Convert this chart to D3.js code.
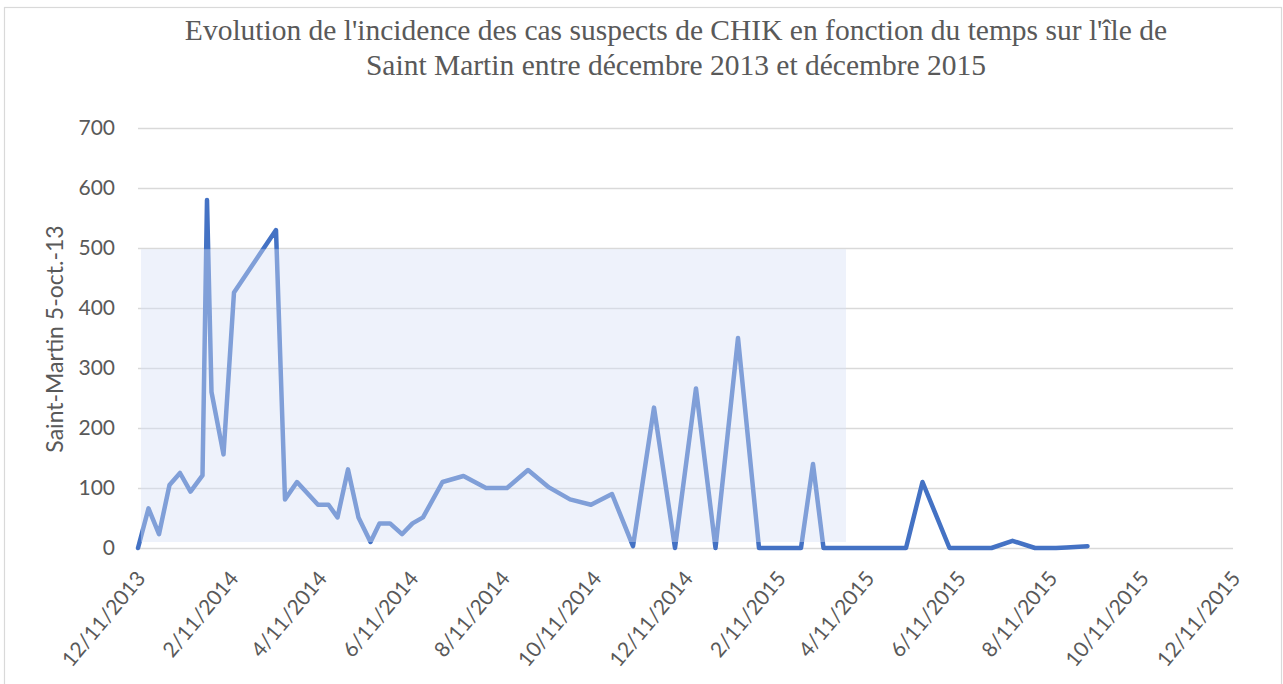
<!DOCTYPE html>
<html>
<head>
<meta charset="utf-8">
<script src="https://cdn.jsdelivr.net/npm/d3@7"></script>
<style>
  html, body { margin: 0; padding: 0; background: #ffffff; }
  svg { display: block; }
</style>
</head>
<body>
<svg id="chart" width="1283" height="684"></svg>
<script>
// Weekly / bi-weekly suspected CHIK cases, Saint-Martin
const dates = [
  "2013-12-11","2013-12-18","2013-12-25","2014-01-01","2014-01-08","2014-01-15",
  "2014-01-23","2014-01-26","2014-01-29","2014-02-06","2014-02-13","2014-03-13",
  "2014-03-19","2014-03-27","2014-04-10","2014-04-17","2014-04-23","2014-04-30",
  "2014-05-07","2014-05-15","2014-05-21","2014-05-28","2014-06-05","2014-06-12",
  "2014-06-19","2014-07-02","2014-07-16","2014-07-31","2014-08-14","2014-08-28",
  "2014-09-11","2014-09-25","2014-10-09","2014-10-23","2014-11-06","2014-11-20",
  "2014-12-04","2014-12-18","2014-12-31","2015-01-15","2015-01-29","2015-02-12",
  "2015-02-26","2015-03-06","2015-03-13","2015-03-26","2015-04-09","2015-04-23",
  "2015-05-07","2015-05-18","2015-06-05","2015-06-19","2015-07-03","2015-07-17",
  "2015-08-01","2015-08-15","2015-08-22","2015-09-05"
];
const cases = [
  0, 66, 23, 105, 125, 94,
  121, 580, 260, 156, 426, 530,
  81, 110, 72, 72, 51, 131,
  51, 10, 41, 41, 23, 41,
  51, 110, 120, 100, 100, 130,
  101, 81, 72, 90, 3, 234,
  0, 266, 0, 350, 0, 0,
  0, 140, 0, 0, 0, 0,
  0, 110, 0, 0, 0, 12,
  0, 0, 1, 3
];

const xTickLabels = [
  "12/11/2013","2/11/2014","4/11/2014","6/11/2014","8/11/2014","10/11/2014",
  "12/11/2014","2/11/2015","4/11/2015","6/11/2015","8/11/2015","10/11/2015","12/11/2015"
];
const yTickValues = [0, 100, 200, 300, 400, 500, 600, 700];

// Highlighted period (translucent band drawn over the series)
const bandStart = "2013-12-13";
const bandEnd = "2015-03-28";
const bandLow = 10;
const bandHigh = 498;

const titleLines = [
  "Evolution de l'incidence des cas suspects de CHIK en fonction du temps sur l'île de",
  "Saint Martin entre décembre 2013 et décembre 2015"
];
const yAxisTitle = "Saint-Martin 5-oct.-13";

const parseISO = d3.utcParse("%Y-%m-%d");
const parseTick = d3.utcParse("%m/%d/%Y");

const data = dates.map((d, i) => ({ date: parseISO(d), value: cases[i] }));
const tickDates = xTickLabels.map(parseTick);

const svg = d3.select("#chart");
const plot = { left: 138, right: 1233, top: 128, bottom: 548 };

const x = d3.scaleUtc()
  .domain([tickDates[0], tickDates[tickDates.length - 1]])
  .range([plot.left, plot.right]);
const y = d3.scaleLinear().domain([0, 700]).range([plot.bottom, plot.top]);

const grey = "#595959";
const gridColor = "#d9d9d9";
const lineColor = "#4472c4";
const sansFont = "Lato, 'Open Sans', sans-serif";

// Chart area border
svg.append("rect")
  .attr("x", 4.5).attr("y", 7.5)
  .attr("width", 1277).attr("height", 720)
  .attr("fill", "none")
  .attr("stroke", gridColor)
  .attr("stroke-width", 1.2);

// Title
svg.append("g")
  .selectAll("text")
  .data(titleLines)
  .join("text")
  .attr("x", 676)
  .attr("y", (d, i) => 40 + i * 34.5)
  .attr("text-anchor", "middle")
  .attr("font-family", "'Liberation Serif', 'Times New Roman', serif")
  .attr("font-size", 29.5)
  .attr("fill", grey)
  .text(d => d);

// Horizontal gridlines + y labels
const yAxis = d3.axisLeft(y)
  .tickValues(yTickValues)
  .tickSize(-(plot.right - plot.left))
  .tickPadding(23);
const gy = svg.append("g")
  .attr("transform", `translate(${plot.left},0)`)
  .call(yAxis);
gy.select(".domain").remove();
gy.selectAll(".tick line")
  .attr("stroke", gridColor)
  .attr("stroke-width", 1.5);
gy.selectAll(".tick text")
  .attr("fill", grey)
  .attr("font-family", sansFont)
  .attr("font-size", 21);

// Series line
const line = d3.line()
  .x(d => x(d.date))
  .y(d => y(d.value));

svg.append("path")
  .datum(data)
  .attr("d", line)
  .attr("fill", "none")
  .attr("stroke", lineColor)
  .attr("stroke-width", 4.5)
  .attr("stroke-linejoin", "round")
  .attr("stroke-linecap", "round");

// Translucent highlight band
svg.append("rect")
  .attr("x", x(parseISO(bandStart)))
  .attr("y", y(bandHigh))
  .attr("width", x(parseISO(bandEnd)) - x(parseISO(bandStart)))
  .attr("height", y(bandLow) - y(bandHigh))
  .attr("fill", "rgb(214,224,245)")
  .attr("fill-opacity", 0.41);

// X tick labels (rotated)
const xAxis = d3.axisBottom(x)
  .tickValues(tickDates)
  .tickSize(0)
  .tickFormat((d, i) => xTickLabels[i]);
const gx = svg.append("g")
  .attr("transform", `translate(0,${plot.bottom})`)
  .call(xAxis);
gx.select(".domain").remove();
gx.selectAll(".tick text")
  .attr("fill", grey)
  .attr("font-family", sansFont)
  .attr("font-size", 21)
  .attr("text-anchor", "end")
  .attr("dy", null)
  .attr("y", null)
  .attr("transform", "translate(8,31) rotate(-50)");

// Y axis title
svg.append("text")
  .attr("transform", "translate(63,339) rotate(-90)")
  .attr("text-anchor", "middle")
  .attr("fill", grey)
  .attr("font-family", sansFont)
  .attr("font-size", 23)
  .text(yAxisTitle);
</script>
</body>
</html>
